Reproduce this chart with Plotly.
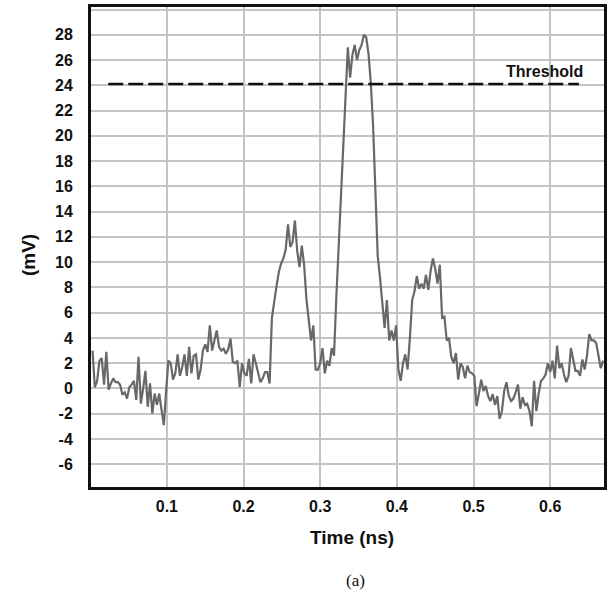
import plotly.graph_objects as go

# ---- data ----
time_ns = [
    0.003, 0.006, 0.009, 0.012, 0.015, 0.018, 0.021, 0.024, 0.027, 0.030,
    0.033, 0.036, 0.039, 0.042, 0.045, 0.048, 0.051, 0.054, 0.057, 0.060,
    0.063, 0.066, 0.069, 0.072, 0.075, 0.078, 0.081, 0.084, 0.087, 0.090,
    0.093, 0.096, 0.099, 0.102, 0.105, 0.108, 0.111, 0.114, 0.117, 0.120,
    0.123, 0.126, 0.129, 0.132, 0.135, 0.138, 0.141, 0.144, 0.147, 0.150,
    0.153, 0.156, 0.159, 0.162, 0.165, 0.168, 0.171, 0.174, 0.177, 0.180,
    0.183, 0.186, 0.189, 0.192, 0.195, 0.198, 0.201, 0.204, 0.207, 0.210,
    0.213, 0.216, 0.219, 0.222, 0.225, 0.228, 0.231, 0.234, 0.237, 0.240,
    0.243, 0.246, 0.249, 0.252, 0.255, 0.258, 0.261, 0.264, 0.267, 0.270,
    0.273, 0.276, 0.279, 0.282, 0.285, 0.288, 0.291, 0.294, 0.297, 0.300,
    0.303, 0.306, 0.309, 0.312, 0.315, 0.318, 0.321, 0.324, 0.327, 0.330,
    0.333, 0.336, 0.339, 0.342, 0.345, 0.348, 0.351, 0.354, 0.357, 0.360,
    0.363, 0.366, 0.369, 0.372, 0.375, 0.378, 0.381, 0.384, 0.387, 0.390,
    0.393, 0.396, 0.399, 0.402, 0.405, 0.408, 0.411, 0.414, 0.417, 0.420,
    0.423, 0.426, 0.429, 0.432, 0.435, 0.438, 0.441, 0.444, 0.447, 0.450,
    0.453, 0.456, 0.459, 0.462, 0.465, 0.468, 0.471, 0.474, 0.477, 0.480,
    0.483, 0.486, 0.489, 0.492, 0.495, 0.498, 0.501, 0.504, 0.507, 0.510,
    0.513, 0.516, 0.519, 0.522, 0.525, 0.528, 0.531, 0.534, 0.537, 0.540,
    0.543, 0.546, 0.549, 0.552, 0.555, 0.558, 0.561, 0.564, 0.567, 0.570,
    0.573, 0.576, 0.579, 0.582, 0.585, 0.588, 0.591, 0.594, 0.597, 0.600,
    0.603, 0.606, 0.609, 0.612, 0.615, 0.618, 0.621, 0.624, 0.627, 0.630,
    0.633, 0.636, 0.639, 0.642, 0.645, 0.648, 0.651, 0.654, 0.657, 0.660,
    0.663, 0.666, 0.669,
]

signal_mv = [
    3.0, 0.1, 0.6, 2.2, 2.4, 0.3, 2.9, -0.1, 0.4, 0.8,
    0.5, 0.5, 0.3, -0.5, -0.3, -0.8, 0.1, 0.3, 0.6, -0.9,
    2.5, -1.2, 0.0, 1.4, -1.45, 0.4, -2.0, -0.4, -1.3, -0.4,
    -1.7, -2.9, -0.2, 2.2, 2.0, 0.7, 1.2, 2.7, 1.0, 1.7,
    2.7, 1.0, 3.3, 1.2, 2.6, 2.7, 0.7, 1.5, 3.0, 3.5,
    2.9, 5.0, 3.0, 3.7, 4.6, 3.3, 3.0, 3.15, 2.75, 3.1,
    3.95, 2.1, 2.0, 2.2, 0.1, 2.0, 1.2, 1.0, 2.35, 0.4,
    2.7, 2.0, 1.2, 0.5, 0.8, 1.3, 1.3, 0.4, 5.6, 7.0,
    8.1, 9.2, 9.9, 10.3, 11.0, 13.0, 11.2, 11.6, 13.3, 10.9,
    9.6, 11.3, 9.8, 7.1, 5.5, 3.8, 5.0, 1.5, 1.5, 2.0,
    3.2, 1.2, 2.2, 1.8, 3.2, 2.6, 7.2, 11.0, 14.5, 18.7,
    23.2, 27.0, 24.6, 26.4, 27.2, 26.0, 26.8, 27.2, 28.0, 27.8,
    26.5, 24.2, 20.8, 15.0, 10.5, 8.8, 6.8, 4.8, 7.0, 3.8,
    4.6, 3.8, 5.0, 1.5, 0.6, 2.0, 2.7, 1.5, 4.0, 7.0,
    7.7, 8.9, 7.9, 8.3, 7.9, 9.0, 7.8, 9.3, 10.3, 9.5,
    8.3, 9.8, 5.6, 5.7, 3.8, 4.0, 2.5, 2.0, 2.8, 0.7,
    2.0, 1.7, 0.8, 1.8, 1.3, 1.2, 1.0, -1.4, -0.4, 0.7,
    -0.2, 0.2, -0.6, -1.0, -0.45, -1.3, -0.6, -2.4, -1.8, -0.2,
    0.5, -0.6, -1.0, -0.8, -0.3, 0.3, -1.6, -0.7, -1.3, -1.2,
    -1.8, -3.0, 0.6, -1.8, -0.4, 0.6, 0.8, 1.1, 2.0, 1.3,
    2.2, 0.8, 3.4, 1.6, 2.0, 1.1, 0.5, 1.0, 3.2, 2.2,
    1.4, 1.4, 1.0, 2.3, 1.5, 2.6, 4.3, 3.8, 3.8, 3.6,
    2.6, 1.6, 2.2,
]

threshold_mv = 24.1
threshold_span_ns = [0.0235, 0.6375]
threshold_label = "Threshold"

x_tick_vals = [0.1, 0.2, 0.3, 0.4, 0.5, 0.6]
x_tick_text = ["0.1", "0.2", "0.3", "0.4", "0.5", "0.6"]
y_tick_vals = [-6, -4, -2, 0, 2, 4, 6, 8, 10, 12, 14, 16, 18, 20, 22, 24, 26, 28, 30]
y_tick_text = ["-6", "-4", "-2", "0", "2", "4", "6", "8", "10", "12", "14",
               "16", "18", "20", "22", "24", "26", "28", ""]

x_title = "Time (ns)"
y_title = "(mV)"
caption = "(a)"

# ---- figure ----
SANS = "Liberation Sans, Arial, sans-serif"
bold16 = dict(family=SANS, size=16, color="#111111", weight="bold")

fig = go.Figure()
fig.add_trace(go.Scatter(
    x=time_ns, y=signal_mv, mode="lines",
    line=dict(color="#686868", width=2.2),
    hoverinfo="skip",
))
fig.add_trace(go.Scatter(
    x=threshold_span_ns, y=[threshold_mv, threshold_mv], mode="lines",
    line=dict(color="#111111", width=2.5, dash="15px,5px"),
    hoverinfo="skip",
))

fig.update_layout(
    width=610, height=592,
    margin=dict(l=91, r=3, t=7, b=105),
    paper_bgcolor="white", plot_bgcolor="white",
    showlegend=False,
)
fig.update_xaxes(
    range=[0.001, 0.6702],
    tickvals=x_tick_vals, ticktext=x_tick_text,
    showgrid=True, gridcolor="#c4c4c4", gridwidth=1.5,
    showline=True, linecolor="#111111", linewidth=3, mirror=True,
    ticks="outside", ticklen=3, tickcolor="rgba(0,0,0,0)",
    tickfont=bold16, zeroline=False,
)
fig.update_yaxes(
    range=[-7.8, 30.2],
    tickvals=y_tick_vals, ticktext=y_tick_text,
    showgrid=True, gridcolor="#c4c4c4", gridwidth=1.5,
    showline=True, linecolor="#111111", linewidth=3, mirror=True,
    ticks="outside", ticklen=12, tickcolor="rgba(0,0,0,0)",
    tickfont=bold16, zeroline=False,
)

fig.add_annotation(
    x=0.6457, y=25.1, xref="x", yref="y", text=threshold_label,
    showarrow=False, xanchor="right", yanchor="middle", font=bold16,
)
fig.add_annotation(
    x=0.5097, y=-0.106, xref="paper", yref="paper", text=x_title,
    showarrow=False, xanchor="center", yanchor="middle",
    font=dict(family=SANS, size=19, color="#111111", weight="bold"),
)
fig.add_annotation(
    x=-0.123, y=0.483, xref="paper", yref="paper", text=y_title,
    showarrow=False, xanchor="center", yanchor="middle", textangle=-90,
    font=dict(family=SANS, size=19, color="#111111", weight="bold"),
)
fig.add_annotation(
    x=0.5155, y=-0.195, xref="paper", yref="paper", text=caption,
    showarrow=False, xanchor="center", yanchor="middle",
    font=dict(family="Liberation Serif, Times New Roman, serif", size=17, color="#111111"),
)

fig.write_html(
    "out.html",
    config={"displayModeBar": False},
    post_script="document.body.style.margin='0';document.body.style.overflow='hidden';",
)
